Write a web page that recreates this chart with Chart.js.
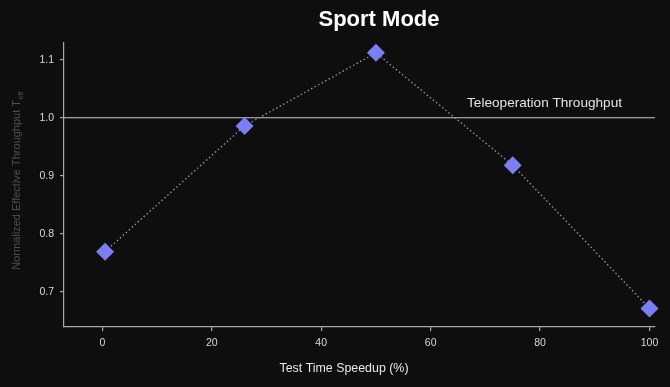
<!DOCTYPE html>
<html>
<head>
<meta charset="utf-8">
<script src="https://cdn.jsdelivr.net/npm/chart.js@4"></script>
<style>
  html, body { margin: 0; padding: 0; background: #0e0e0e; }
  #wrap { width: 670px; height: 387px; }
</style>
</head>
<body>
<div id="wrap"><canvas id="myChart" width="670" height="387"></canvas></div>
<script>
// values
var speedup = [0.5, 26, 50, 75, 100];
var throughput = [0.769, 0.986, 1.112, 0.918, 0.671];
var xTicks = [0, 20, 40, 60, 80, 100];
var yTicks = [0.7, 0.8, 0.9, 1.0, 1.1];
var teleopLevel = 1.0;
var teleopLabel = 'Teleoperation Throughput';
var chartTitle = 'Sport Mode';
var xTitle = 'Test Time Speedup (%)';
var yTitle = 'Normalized Effective Throughput T';
var ySub = 'eff';

var FONT = "'Liberation Sans', Arial, sans-serif";

// title, axis titles and the teleop reference line
var extras = {
    id: 'extras',
    beforeDatasetsDraw: function (chart) {
        var ctx = chart.ctx, area = chart.chartArea;
        var y = chart.scales.y.getPixelForValue(teleopLevel);
        ctx.save();
        ctx.strokeStyle = '#c9c9d2';
        ctx.lineWidth = 1.2;
        ctx.beginPath();
        ctx.moveTo(area.left, y);
        ctx.lineTo(area.right, y);
        ctx.stroke();
        ctx.restore();
    },
    afterDraw: function (chart) {
        var ctx = chart.ctx, area = chart.chartArea;
        var y = chart.scales.y.getPixelForValue(teleopLevel);
        ctx.save();
        ctx.fillStyle = '#e4e4e4';
        ctx.font = '13.6px ' + FONT;
        ctx.textAlign = 'right';
        ctx.textBaseline = 'alphabetic';
        ctx.fillText(teleopLabel, area.right - 33, y - 11);

        ctx.fillStyle = '#ffffff';
        ctx.font = 'bold 22px ' + FONT;
        ctx.textAlign = 'center';
        ctx.textBaseline = 'middle';
        ctx.fillText(chartTitle, 379, 20);

        ctx.fillStyle = '#e8e8e8';
        ctx.font = '12.4px ' + FONT;
        ctx.fillText(xTitle, 344, 369);

        // rotated y title with subscript
        ctx.translate(17, (area.top + area.bottom) / 2 - 4);
        ctx.rotate(-Math.PI / 2);
        ctx.fillStyle = '#505050';
        ctx.font = '11px ' + FONT;
        var w1 = ctx.measureText(yTitle).width;
        ctx.font = '7px ' + FONT;
        var w2 = ctx.measureText(ySub).width;
        var start = -(w1 + w2) / 2;
        ctx.textAlign = 'left';
        ctx.font = '11px ' + FONT;
        ctx.fillText(yTitle, start, 0);
        ctx.font = '7px ' + FONT;
        ctx.fillText(ySub, start + w1 + 0.5, 4);
        ctx.restore();
    }
};

var points = speedup.map(function (x, i) { return { x: x, y: throughput[i] }; });

var ctx = document.getElementById('myChart').getContext('2d');
var chart = new Chart(ctx, {
    type: 'scatter',
    data: {
        datasets: [{
            data: points,
            showLine: true,
            borderColor: '#9a9a9a',
            borderWidth: 1.3,
            borderDash: [1.5, 2.5],
            pointStyle: 'rectRot',
            pointRadius: 9,
            pointHoverRadius: 9,
            pointBackgroundColor: '#7b7ef4',
            pointBorderColor: '#7b7ef4',
            pointBorderWidth: 0,
            clip: false
        }]
    },
    options: {
        responsive: false,
        animation: false,
        layout: { padding: { left: 0, right: 15, top: 43, bottom: 0 } },
        plugins: {
            legend: { display: false },
            tooltip: { enabled: false },
            title: { display: false }
        },
        scales: {
            x: {
                type: 'linear',
                min: -7,
                max: 101,
                afterFit: function (s) { s.height = 60; },
                afterBuildTicks: function (s) { s.ticks = xTicks.map(function (v) { return { value: v }; }); },
                grid: { drawOnChartArea: false, drawTicks: true, tickLength: 4, color: '#a8a8a8', lineWidth: 1.2 },
                border: { display: true, color: '#a8a8a8', width: 1.2 },
                ticks: { color: '#d8d8d8', font: { size: 10.5, family: FONT }, padding: 6, maxRotation: 0 }
            },
            y: {
                type: 'linear',
                min: 0.639,
                max: 1.129,
                afterFit: function (s) { s.width = 64; },
                afterBuildTicks: function (s) { s.ticks = yTicks.map(function (v) { return { value: v }; }); },
                grid: { drawOnChartArea: false, drawTicks: true, tickLength: 4, color: '#a8a8a8', lineWidth: 1.2 },
                border: { display: true, color: '#a8a8a8', width: 1.2 },
                ticks: {
                    color: '#d8d8d8', font: { size: 10.5, family: FONT }, padding: 6,
                    callback: function (v) { return Number(v).toFixed(1); }
                }
            }
        }
    },
    plugins: [extras]
});
</script>
</body>
</html>
